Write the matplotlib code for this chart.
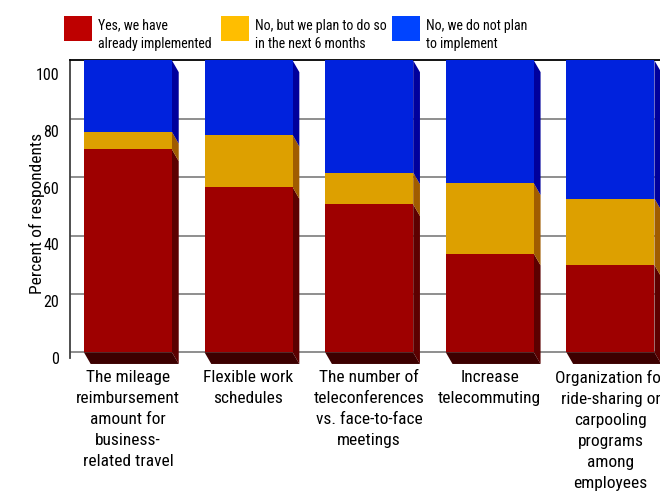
import matplotlib
matplotlib.use('Agg', force=True)

import matplotlib.pyplot as plt
from matplotlib.patches import Polygon, Rectangle
from matplotlib.transforms import ScaledTranslation

plt.rcParams['font.family'] = ['Liberation Sans Narrow', 'Roboto Condensed', 'Liberation Sans', 'DejaVu Sans']

# ---------- data ----------
categories = [
    "The mileage\nreimbursement\namount for\nbusiness-\nrelated travel",
    "Flexible work\nschedules",
    "The number of\nteleconferences\nvs. face-to-face\nmeetings",
    "Increase\ntelecommuting",
    "Organization for\nride-sharing or\ncarpooling\nprograms\namong\nemployees",
]
series = ["Yes, we have\nalready implemented",
          "No, but we plan to do so\nin the next 6 months",
          "No, we do not plan\nto implement"]
implemented = [69.5, 56.6, 50.7, 33.8, 29.9]
plan_6_months = [6.0, 17.9, 10.9, 24.1, 22.8]
not_planned = [24.5, 25.5, 38.4, 42.1, 47.3]
yticks = [0, 20, 40, 60, 80, 100]

# ---------- styles ----------
front_colors = ['#9e0000', '#dda000', '#0022dd']
side_colors = ['#5c0000', '#a05c00', '#00009c']
floor_color = '#3c0000'
legend_colors = ['#be0000', '#ffbe00', '#0044ff']
bar_width = 0.73
depth_x, depth_y = 0.056, -4.0   # 3D depth offset in data units

fig = plt.figure(figsize=(6.6, 4.92), dpi=100)
ax = fig.add_axes([0.1065, 0.2543, 0.928, 0.6228])
ax.set_xlim(-0.478, 4.6)
ax.set_ylim(-5, 100)

# grid lines behind the bars
for yv in yticks[:-1]:
    ax.axhline(yv, color='#707070', lw=1.1, zorder=0)

x = list(range(len(categories)))
stacks = [implemented, plan_6_months, not_planned]
bottoms = [0.0] * len(categories)
for s, vals in enumerate(stacks):
    bars = ax.bar(x, vals, bar_width, bottom=bottoms, color=front_colors[s],
                  edgecolor='none', zorder=3, clip_on=False)
    for bar in bars:
        xr = bar.get_x() + bar.get_width()
        b = bar.get_y()
        t = b + bar.get_height()
        side = Polygon([(xr, t), (xr + depth_x, t + depth_y),
                        (xr + depth_x, b + depth_y), (xr, b)],
                       closed=True, facecolor=side_colors[s], edgecolor='none',
                       zorder=2, clip_on=False)
        ax.add_patch(side)
    bottoms = [bt + v for bt, v in zip(bottoms, vals)]

# dark floor face under each bar
for bar in ax.patches[:len(categories)]:
    xl = bar.get_x()
    xr = xl + bar.get_width()
    floor = Polygon([(xl, 0), (xr, 0), (xr + depth_x, depth_y), (xl + depth_x, depth_y)],
                    closed=True, facecolor=floor_color, edgecolor='none',
                    zorder=2.5, clip_on=False)
    ax.add_patch(floor)

# ---------- axes ----------
for side in ['right', 'bottom']:
    ax.spines[side].set_visible(False)
ax.spines['top'].set_color('black')
ax.spines['top'].set_linewidth(1.3)
ax.spines['left'].set_color('#404040')
ax.spines['left'].set_linewidth(1.3)
ax.spines['left'].set_bounds(-2, 100)

ax.set_yticks(yticks)
ax.set_yticklabels([str(v) for v in yticks], fontsize=11.5)
ax.tick_params(axis='y', length=0, pad=8)
# tick numbers sit a little below their grid lines, more so towards the top
for v, lbl in zip(yticks, ax.get_yticklabels()):
    shift = (4 + 0.06 * v) / 72
    lbl.set_transform(lbl.get_transform() + ScaledTranslation(0, -shift, fig.dpi_scale_trans))

ax.set_xticks(x)
ax.set_xticklabels(categories, fontsize=12.5, linespacing=1.5)
ax.tick_params(axis='x', length=0, pad=2)

ax.set_ylabel("Percent of respondents", fontsize=12.5)
ax.yaxis.set_label_coords(-0.042, 0.5)

# ---------- legend ----------
sw_left = [64, 221, 392]
for i, name in enumerate(series):
    x0 = sw_left[i] / 660
    fig.patches.append(Rectangle((x0, 1 - 41 / 492), 28 / 660, 25 / 492,
                                 transform=fig.transFigure, facecolor=legend_colors[i],
                                 edgecolor='none'))
    fig.text(x0 + 34 / 660, 1 - 35 / 492, name, fontsize=10, va='center', ha='left',
             linespacing=1.45)

fig.savefig('out.png', dpi=100)
